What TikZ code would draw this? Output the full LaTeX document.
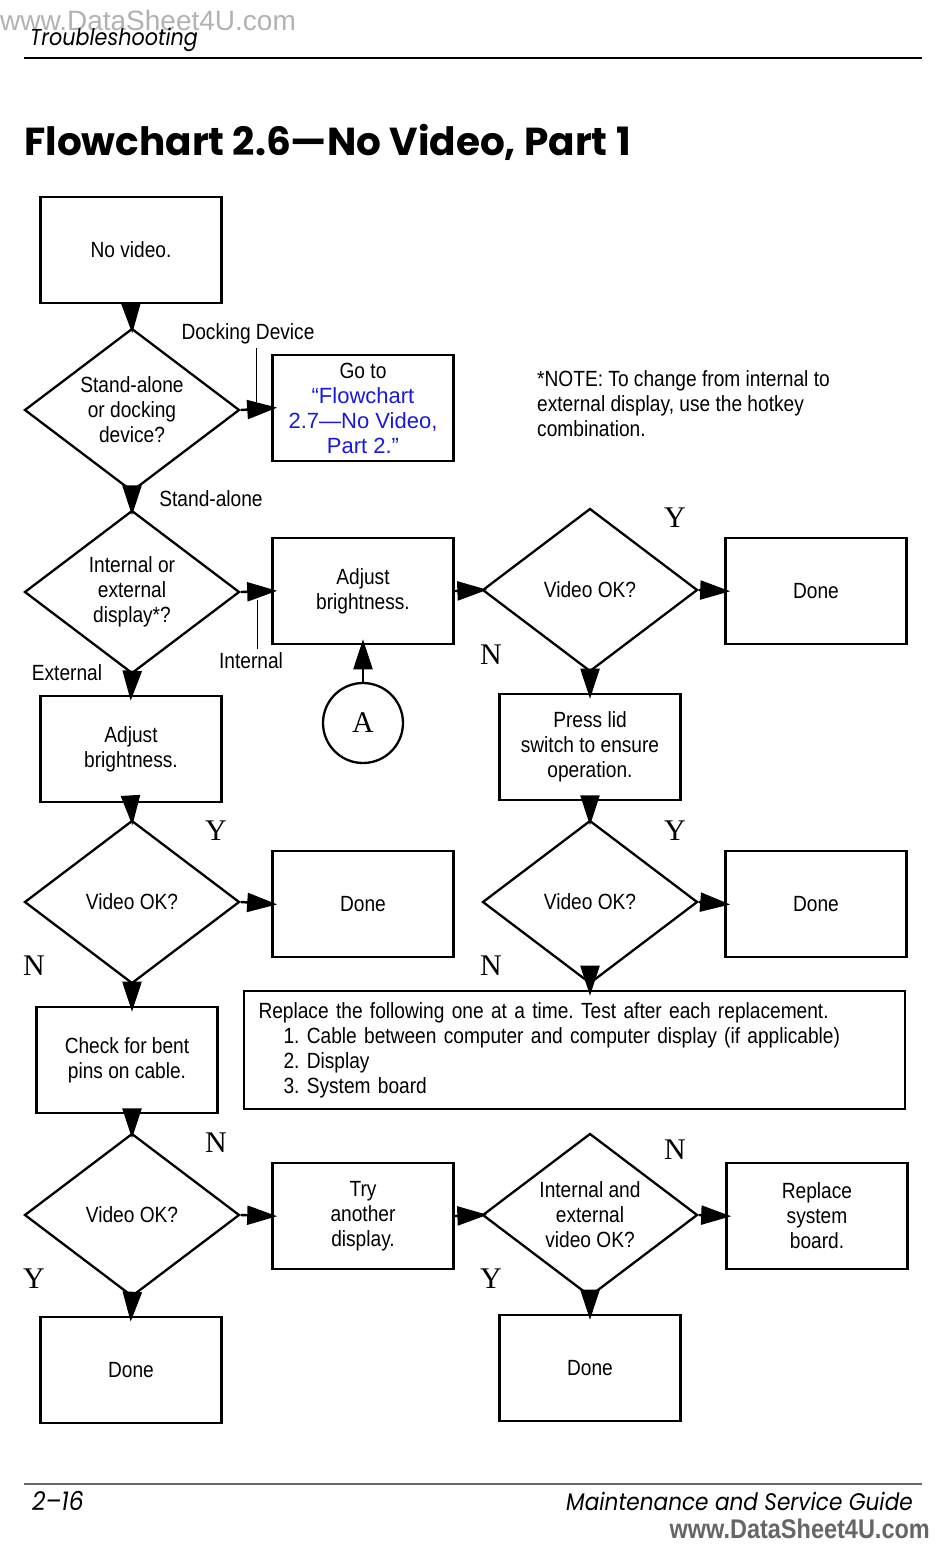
\documentclass[tikz,border=0pt]{standalone}
\usepackage{fontspec}
\setmainfont{Liberation Sans}[FakeStretch=0.87]
\newfontfamily\ynfont{Liberation Serif}
\newfontfamily\linkfont{Liberation Sans}
\newfontfamily\titlefont{Poppins}
\newfontfamily\headfont{Poppins}[FakeStretch=0.9]
\usetikzlibrary{shapes.geometric,arrows.meta,positioning}
\definecolor{linkblue}{RGB}{25,25,220}
\frenchspacing

\begin{document}
\begin{tikzpicture}[x=1pt,y=-1pt,
  box/.style={draw,line width=2.6pt,minimum width=181pt,minimum height=106pt,inner sep=2pt,align=center,font=\fontsize{22}{25}\selectfont},
  ask/.style={draw,diamond,aspect=1.32,line width=2.3pt,minimum width=215pt,minimum height=163pt,inner sep=0pt,align=center,font=\fontsize{22}{25}\selectfont},
  flow/.style={line width=2.4pt,-{Triangle[length=30pt,width=19pt]},shorten >=-6pt},
  yn/.style={font=\ynfont\fontsize{30}{30}\selectfont,inner sep=0pt},
  lbl/.style={font=\fontsize{22}{25}\selectfont,inner sep=0pt}]
  \useasboundingbox (0,0) rectangle (950,1553);
  % page head and foot
  \node[anchor=west,inner sep=0pt,text=black!30,font=\linkfont\fontsize{28}{28}\selectfont] (wmtop) at (0,20) {www.DataSheet4U.com};
  \node[anchor=base west,inner sep=0pt,font=\headfont\itshape\fontsize{23}{23}\selectfont] (head) at (30,45) {Troubleshooting};
  \draw[line width=1.5pt] (24,58) -- (922,58);
  \node[anchor=base west,inner sep=0pt,font=\titlefont\bfseries\fontsize{39}{39}\selectfont] (title) at (24,155) {Flowchart 2.6—No Video, Part 1};
  \draw[line width=1.5pt,black!60] (24,1484) -- (922,1484);
  \node[anchor=base west,inner sep=0pt,font=\headfont\itshape\fontsize{26}{26}\selectfont] (pagenum) at (32,1510) {2–16};
  \node[anchor=base east,inner sep=0pt,font=\headfont\itshape\fontsize{24}{24}\selectfont] (guide) at (913,1510) {Maintenance and Service Guide};
  \node[anchor=base east,inner sep=0pt,text=black!60,font=\bfseries\fontsize{27}{27}\selectfont] (wmbot) at (930,1538) {www.DataSheet4U.com};

  % left column
  \node[box] (novideo) at (131,250) {No video.};
  \node[ask] (dock) at (132,410) {Stand-alone\\or docking\\device?};
  \node[ask] (intext) at (132,592) {Internal or\\external\\display*?};
  \node[box] (adjleft) at (131,749) {Adjust\\brightness.};
  \node[ask] (okleft) at (132,902) {Video OK?};
  \node[box] (bent) at (127,1060) {Check for bent\\pins on cable.};
  \node[ask] (okbent) at (132,1215) {Video OK?};
  \node[box] (donebent) at (131,1370) {Done};

  % middle column
  \node[box] (goto) at (363,408) {Go to\\{\linkfont\color{linkblue}“Flowchart}\\{\linkfont\color{linkblue}2.7—No Video,}\\{\linkfont\color{linkblue}Part 2.”}};
  \node[box] (adjright) at (363,591) {Adjust\\brightness.};
  \node[draw,circle,line width=2.3pt,minimum size=80pt,font=\ynfont\fontsize{30}{30}\selectfont] (conA) at (363,723) {A};
  \node[box] (doneleft) at (363,904) {Done};
  \node[box] (trydisp) at (363,1216) {Try\\another\\display.};

  % right columns
  \node[ask] (okright) at (590,590) {Video OK?};
  \node[box] (donetop) at (816,591) {Done};
  \node[box] (lid) at (590,747) {Press lid\\switch to ensure\\operation.};
  \node[ask] (oklid) at (590,902) {Video OK?};
  \node[box] (donelid) at (816,904) {Done};
  \node[draw,line width=2.6pt,minimum width=661pt,minimum height=118pt,text width=632pt,inner sep=0pt,align=left,font=\fontsize{22}{25}\selectfont] (replall) at (574.5,1050)
    {Replace the following one at a time. Test after each replacement.\\
     \hspace*{25pt}1. Cable between computer and computer display (if applicable)\\
     \hspace*{25pt}2. Display\\
     \hspace*{25pt}3. System board};
  \node[ask] (okboth) at (590,1215) {Internal and\\external\\video OK?};
  \node[box] (sysboard) at (817,1216) {Replace\\system\\board.};
  \node[box] (doneboth) at (590,1368) {Done};
  \node[anchor=north west,inner sep=0pt,align=left,font=\fontsize{22}{25}\selectfont] (note) at (537,370)
    {*NOTE: To change from internal to\\external display, use the hotkey\\combination.};

  % branch labels
  \node[lbl] (lbdock) at (248,334) {Docking Device};
  \node[lbl] (lbstand) at (211,499) {Stand-alone};
  \node[lbl] (lbint) at (251,661) {Internal};
  \node[lbl] (lbext) at (67,673) {External};
  \coordinate (dockpt) at (256,402);
  \coordinate (intpt) at (257,600);
  \draw[line width=0.8pt,shorten <=4pt] (lbdock.south -| dockpt) -- (dockpt);
  \draw[line width=0.8pt,shorten <=4pt] (lbint.north -| intpt) -- (intpt);
  \node[yn] (y1) at (675,518) {Y};
  \node[yn] (n1) at (491,655) {N};
  \node[yn] (y2) at (216,831) {Y};
  \node[yn] (n2) at (34,966) {N};
  \node[yn] (y3) at (675,831) {Y};
  \node[yn] (n3) at (491,966) {N};
  \node[yn] (n4) at (216,1143) {N};
  \node[yn] (y4) at (34,1279) {Y};
  \node[yn] (n5) at (675,1150) {N};
  \node[yn] (y5) at (491,1279) {Y};

  % connectors
  \draw[flow] (novideo.south) -- (dock.north);
  \draw[flow] (dock.east) -- (goto.west);
  \draw[flow] (dock.south) -- (intext.north);
  \draw[flow] (intext.east) -- (adjright.west);
  \draw[flow] (intext.south) -- (adjleft.north);
  \draw[flow] (conA.north) -- (adjright.south);
  \draw[flow] (adjright.east) -- (okright.west);
  \draw[flow] (okright.east) -- (donetop.west);
  \draw[flow] (okright.south) -- (lid.north);
  \draw[flow] (adjleft.south) -- (okleft.north);
  \draw[flow] (okleft.east) -- (doneleft.west);
  \draw[flow] (lid.south) -- (oklid.north);
  \draw[flow] (oklid.east) -- (donelid.west);
  \draw[flow] (oklid.south) -- (oklid.south |- replall.north);
  \draw[flow] (okleft.south) -- (okleft.south |- bent.north);
  \draw[flow] (bent.south -| okbent.north) -- (okbent.north);
  \draw[flow] (okbent.east) -- (trydisp.west);
  \draw[flow] (okbent.south) -- (donebent.north);
  \draw[flow] (trydisp.east) -- (okboth.west);
  \draw[flow] (okboth.east) -- (sysboard.west);
  \draw[flow] (okboth.south) -- (doneboth.north);
\end{tikzpicture}
\end{document}
